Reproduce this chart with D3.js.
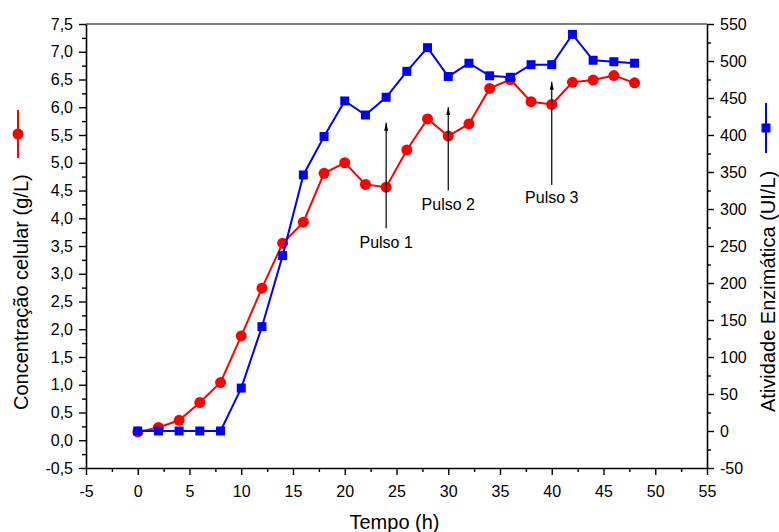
<!DOCTYPE html>
<html>
<head>
<meta charset="utf-8">
<script src="https://cdn.jsdelivr.net/npm/d3@7"></script>
<style>
body { margin: 0; background: #fff; }
text { font-family: "Liberation Sans", Arial, sans-serif; }
</style>
</head>
<body>
<svg></svg>
<script>
// dados
var tempo = [0, 2, 4, 6, 8, 10, 12, 14, 16, 18, 20, 22, 24, 26, 28, 30, 32, 34, 36, 38, 40, 42, 44, 46, 48];
var concentracao = [0.15, 0.23, 0.36, 0.68, 1.04, 1.88, 2.74, 3.55, 3.93, 4.81, 5.00, 4.61, 4.56, 5.23, 5.79, 5.48, 5.70, 6.34, 6.50, 6.10, 6.05, 6.45, 6.49, 6.57, 6.44];
var atividade = [0, 0, 0, 0, 0, 58, 141, 237, 346, 398, 446, 427, 451, 486, 518, 479, 497, 480, 478, 495, 495, 536, 501, 499, 497];

var pulsos = ["Pulso 1", "Pulso 2", "Pulso 3"];
var pulsoTempo = [24, 30, 40];
var pulsoTopo = [5.72, 6.0, 6.46];   // g/L
var pulsoBase = [3.82, 4.5, 4.6];
var pulsoTexto = [3.46, 4.15, 4.28];

var xTicks = d3.range(-5, 56, 5);
var xMinor = d3.range(-2.5, 55, 5);
var yLeftTicks = d3.range(-0.5, 7.51, 0.5);
var yLeftMinor = d3.range(-0.25, 7.5, 0.5);
var yRightTicks = d3.range(-50, 551, 50);
var yRightMinor = d3.range(-25, 550, 50);

var svgWidth = 779, svgHeight = 532;
var margin = { top: 24, right: 72, bottom: 64, left: 86 };
var width = svgWidth - margin.left - margin.right;
var height = svgHeight - margin.top - margin.bottom;

var svg = d3.select("svg")
    .attr("width", svgWidth)
    .attr("height", svgHeight);

svg.append("rect")
    .attr("width", "100%")
    .attr("height", "100%")
    .attr("fill", "white");

svg.append("defs").append("marker")
    .attr("id", "seta")
    .attr("viewBox", "0 0 8 4")
    .attr("refX", 8)
    .attr("refY", 2)
    .attr("markerWidth", 8)
    .attr("markerHeight", 4)
    .attr("markerUnits", "userSpaceOnUse")
    .attr("orient", "auto")
    .append("path")
    .attr("d", "M0,0L8,2L0,4Z")
    .attr("fill", "#000");

var g = svg.append("g")
    .attr("transform", "translate(" + margin.left + "," + margin.top + ")");

var x = d3.scaleLinear().domain([-5, 55]).range([0, width]);
var yL = d3.scaleLinear().domain([-0.5, 7.5]).range([height, 0]);
var yR = d3.scaleLinear().domain([-50, 550]).range([height, 0]);

// vírgula decimal e hífen simples
var virgula = function (d) { return d3.format(".1f")(d).replace(".", ",").replace("\u2212", "-"); };
var inteiro = function (d) { return d3.format("d")(d).replace("\u2212", "-"); };

function estilo(sel) {
    sel.select(".domain").attr("stroke-width", 1.6);
    sel.selectAll(".tick line").attr("stroke-width", 1.4);
    sel.selectAll("text").attr("font-size", 16).attr("font-family", "Liberation Sans, Arial, sans-serif").attr("fill", "#000");
}

// marcas menores
g.append("g").attr("transform", "translate(0," + height + ")")
    .call(d3.axisBottom(x).tickValues(xMinor).tickSize(4).tickFormat("").tickSizeOuter(0))
    .call(function (s) { s.select(".domain").remove(); s.selectAll("line").attr("stroke-width", 1.4); });
g.append("g")
    .call(d3.axisLeft(yL).tickValues(yLeftMinor).tickSize(4).tickFormat("").tickSizeOuter(0))
    .call(function (s) { s.select(".domain").remove(); s.selectAll("line").attr("stroke-width", 1.4); });
g.append("g").attr("transform", "translate(" + width + ",0)")
    .call(d3.axisRight(yR).tickValues(yRightMinor).tickSize(4).tickFormat("").tickSizeOuter(0))
    .call(function (s) { s.select(".domain").remove(); s.selectAll("line").attr("stroke-width", 1.4); });

// eixos principais
g.append("g").attr("transform", "translate(0," + height + ")")
    .call(d3.axisBottom(x).tickValues(xTicks).tickSize(7).tickPadding(11).tickSizeOuter(0).tickFormat(inteiro))
    .call(estilo);
g.append("g")
    .call(d3.axisLeft(yL).tickValues(yLeftTicks).tickSize(7).tickPadding(6).tickSizeOuter(0).tickFormat(virgula))
    .call(estilo);
g.append("g").attr("transform", "translate(" + width + ",0)")
    .call(d3.axisRight(yR).tickValues(yRightTicks).tickSize(7).tickPadding(6).tickSizeOuter(0).tickFormat(inteiro))
    .call(estilo);

// linha de topo
g.append("line")
    .attr("x1", 0).attr("x2", width)
    .attr("y1", 0).attr("y2", 0)
    .attr("stroke", "#000")
    .attr("stroke-width", 1.2);

// série concentração
var linhaC = d3.line()
    .x(function (d, i) { return x(tempo[i]); })
    .y(function (d) { return yL(d); });
g.append("path")
    .datum(concentracao)
    .attr("fill", "none")
    .attr("stroke", "#ff0000")
    .attr("stroke-width", 2)
    .attr("d", linhaC);
g.selectAll(".pc")
    .data(concentracao)
    .enter().append("circle")
    .attr("cx", function (d, i) { return x(tempo[i]); })
    .attr("cy", function (d) { return yL(d); })
    .attr("r", 5.5)
    .attr("fill", "#ff0000");

// série atividade
var linhaA = d3.line()
    .x(function (d, i) { return x(tempo[i]); })
    .y(function (d) { return yR(d); });
g.append("path")
    .datum(atividade)
    .attr("fill", "none")
    .attr("stroke", "#0000ff")
    .attr("stroke-width", 2)
    .attr("d", linhaA);
g.selectAll(".pa")
    .data(atividade)
    .enter().append("rect")
    .attr("x", function (d, i) { return x(tempo[i]) - 4.5; })
    .attr("y", function (d) { return yR(d) - 4.5; })
    .attr("width", 9)
    .attr("height", 9)
    .attr("fill", "#0000ff");

// setas dos pulsos
pulsos.forEach(function (p, i) {
    g.append("line")
        .attr("x1", x(pulsoTempo[i])).attr("x2", x(pulsoTempo[i]))
        .attr("y1", yL(pulsoBase[i])).attr("y2", yL(pulsoTopo[i]))
        .attr("stroke", "#000")
        .attr("stroke-width", 1.2)
        .attr("marker-end", "url(#seta)");
    g.append("text")
        .attr("x", x(pulsoTempo[i]))
        .attr("y", yL(pulsoTexto[i]))
        .attr("text-anchor", "middle")
        .attr("font-size", 16)
        .text(p);
});

// títulos
svg.append("text")
    .attr("x", margin.left + width / 2 - 2)
    .attr("y", 529)
    .attr("text-anchor", "middle")
    .attr("font-size", 20)
    .text("Tempo (h)");

svg.append("text")
    .attr("transform", "translate(28,410) rotate(-90)")
    .attr("text-anchor", "start")
    .attr("font-size", 20)
    .text("Concentração celular (g/L)");
svg.append("line")
    .attr("x1", 18).attr("x2", 18).attr("y1", 110).attr("y2", 158)
    .attr("stroke", "#ff0000").attr("stroke-width", 2);
svg.append("circle")
    .attr("cx", 18).attr("cy", 134).attr("r", 5.5)
    .attr("fill", "#ff0000");

svg.append("text")
    .attr("transform", "translate(775,412) rotate(-90)")
    .attr("text-anchor", "start")
    .attr("font-size", 20)
    .text("Atividade Enzimática (UI/L)");
svg.append("line")
    .attr("x1", 766).attr("x2", 766).attr("y1", 103).attr("y2", 153)
    .attr("stroke", "#0000ff").attr("stroke-width", 2);
svg.append("rect")
    .attr("x", 766 - 4.5).attr("y", 128 - 4.5).attr("width", 9).attr("height", 9)
    .attr("fill", "#0000ff");
</script>
</body>
</html>
